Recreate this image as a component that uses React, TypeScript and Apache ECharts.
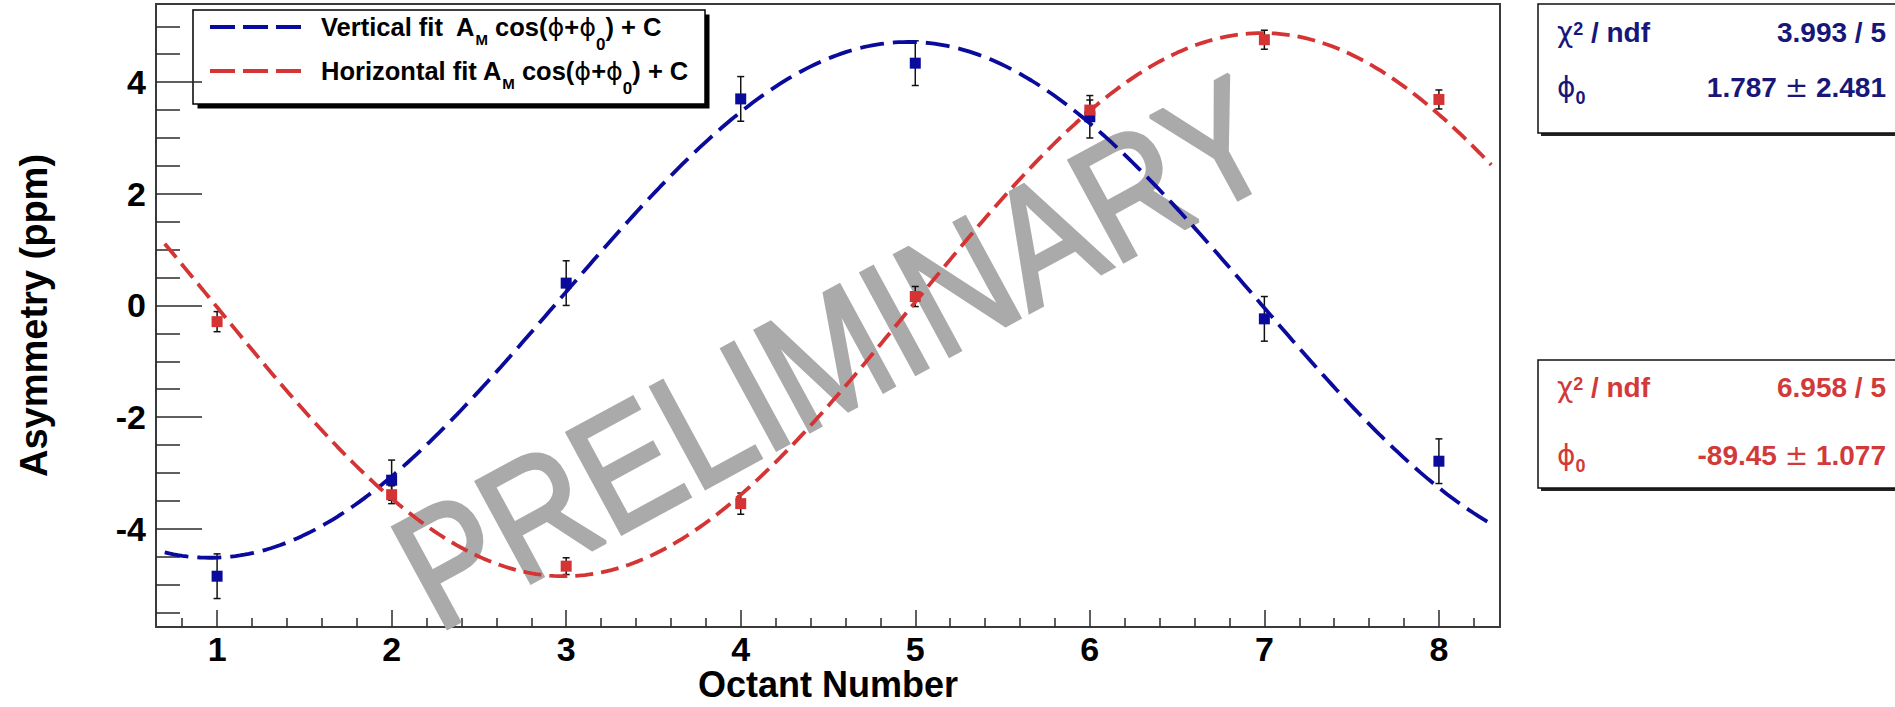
import React, { useEffect, useRef } from "react";
import * as echarts from "echarts";

// ---- measured asymmetries per octant ----
const octants = [1, 2, 3, 4, 5, 6, 7, 8];
const verticalAsym = [-4.85, -3.13, 0.4, 3.7, 4.34, 3.38, -0.24, -2.79];
const verticalErr = [0.4, 0.36, 0.4, 0.4, 0.4, 0.38, 0.4, 0.4];
const horizontalAsym = [-0.29, -3.39, -4.67, -3.55, 0.16, 3.5, 4.76, 3.69];
const horizontalErr = [0.18, 0.16, 0.15, 0.19, 0.18, 0.18, 0.17, 0.17];

// ---- fit results: A_M cos(phi + phi0) + C, phi = 45 deg per octant ----
const verticalFit = { amp: -4.62, phi0: 1.787, c: 0.1 };
const horizontalFit = { amp: -4.865, phi0: -89.45, c: 0.015 };
const fitRange = [0.7, 8.3];

// ---- stat box texts ----
const verticalStats = { chi2: "3.993 / 5", phi0: "1.787", phi0Err: "2.481" };
const horizontalStats = { chi2: "6.958 / 5", phi0: "-89.45", phi0Err: "1.077" };

// ---- axes ----
const xRange = [0.65, 8.35];
const yRange = [-5.76, 5.4];
const xTicks = [1, 2, 3, 4, 5, 6, 7, 8];
const xMinorTicks = [
  0.8, 1.2, 1.4, 1.6, 1.8, 2.2, 2.4, 2.6, 2.8, 3.2, 3.4, 3.6, 3.8, 4.2, 4.4,
  4.6, 4.8, 5.2, 5.4, 5.6, 5.8, 6.2, 6.4, 6.6, 6.8, 7.2, 7.4, 7.6, 7.8, 8.2,
];
const yTicks = [-4, -2, 0, 2, 4];
const yMinorTicks = [
  -5.5, -5, -4.5, -3.5, -3, -2.5, -1.5, -1, -0.5, 0.5, 1, 1.5, 2.5, 3, 3.5,
  4.5, 5,
];

const BLUE = "#0a0a9c";
const RED = "#d43434";
const BLUE_TEXT = "#17177a";
const RED_TEXT = "#d23a3a";
const FONT = "'Liberation Sans', Arial, Helvetica, sans-serif";
const SYMBOL_FONT = "'DejaVu Sans', 'Liberation Sans', sans-serif";

type Fit = { amp: number; phi0: number; c: number };

// evaluate the fitted cosine across the fit range
function fitCurve(p: Fit, n = 300): number[][] {
  const pts: number[][] = [];
  for (let i = 0; i <= n; i++) {
    const x = fitRange[0] + ((fitRange[1] - fitRange[0]) * i) / n;
    const phi = (x - 1) * 45;
    pts.push([x, p.amp * Math.cos(((phi + p.phi0) * Math.PI) / 180) + p.c]);
  }
  return pts;
}

function errorBarSeries(values: number[], errs: number[]) {
  return {
    type: "custom",
    xAxisIndex: 0,
    yAxisIndex: 0,
    z: 3,
    data: octants.map((o, i) => [o, values[i], errs[i]]),
    encode: { x: 0, y: 1 },
    renderItem: (_params: any, api: any) => {
      const x = api.value(0);
      const y = api.value(1);
      const e = api.value(2);
      const top = api.coord([x, y + e]);
      const bot = api.coord([x, y - e]);
      const cap = 3.5;
      const style = { stroke: "#111", lineWidth: 1.5 };
      return {
        type: "group",
        children: [
          { type: "line", shape: { x1: top[0], y1: top[1], x2: bot[0], y2: bot[1] }, style },
          { type: "line", shape: { x1: top[0] - cap, y1: top[1], x2: top[0] + cap, y2: top[1] }, style },
          { type: "line", shape: { x1: bot[0] - cap, y1: bot[1], x2: bot[0] + cap, y2: bot[1] }, style },
        ],
      };
    },
  };
}

function pointSeries(values: number[], color: string) {
  return {
    type: "scatter",
    xAxisIndex: 0,
    yAxisIndex: 0,
    z: 4,
    symbol: "rect",
    symbolSize: 11,
    itemStyle: { color, opacity: 1 },
    emphasis: { disabled: true },
    data: octants.map((o, i) => [o, values[i]]),
  };
}

function fitSeries(p: Fit, color: string, dash: number[]) {
  return {
    type: "line",
    xAxisIndex: 0,
    yAxisIndex: 0,
    z: 5,
    showSymbol: false,
    symbol: "none",
    smooth: false,
    data: fitCurve(p),
    lineStyle: { color, width: 3.8, type: dash },
  };
}

// rich text styles: t = bold text, p = greek symbol, s/z = subscripts, u = superscript
function richStyles(color: string, size: number, lh: number, subSize: number, subPad: number, supSize: number, supPad: number, sub2Size?: number, sub2Pad?: number) {
  return {
    t: { fontFamily: FONT, fontWeight: "bold", fontSize: size, fill: color, lineHeight: lh, verticalAlign: "middle" },
    p: { fontFamily: SYMBOL_FONT, fontWeight: "normal", fontSize: size, fill: color, lineHeight: lh, verticalAlign: "middle" },
    s: { fontFamily: FONT, fontWeight: "bold", fontSize: subSize, fill: color, lineHeight: 1, verticalAlign: "top", padding: [subPad, 0, 0, 0] },
    z: { fontFamily: FONT, fontWeight: "bold", fontSize: sub2Size ?? subSize, fill: color, lineHeight: 1, verticalAlign: "top", padding: [sub2Pad ?? subPad, 0, 0, 0] },
    u: { fontFamily: FONT, fontWeight: "bold", fontSize: supSize, fill: color, lineHeight: 1, verticalAlign: "top", padding: [supPad, 0, 0, 0] },
  };
}

function legendBox() {
  const x = 193, y = 10, w = 512, h = 94;
  const rows = [
    { color: BLUE, cy: 27, text: "{t|Vertical fit  A}{s|M}{t| cos(}{p|ϕ}{t|+}{p|ϕ}{z|0}{t|) + C}" },
    { color: RED, cy: 71, text: "{t|Horizontal fit A}{s|M}{t| cos(}{p|ϕ}{t|+}{p|ϕ}{z|0}{t|) + C}" },
  ];
  const rich = richStyles("#000", 25.5, 34, 15, 22, 15, 0, 17, 26);
  const children: any[] = [
    { type: "rect", shape: { x: x + 4.5, y: y + 4.5, width: w, height: h }, style: { fill: "#000" } },
    { type: "rect", shape: { x, y, width: w, height: h }, style: { fill: "#fff", stroke: "#000", lineWidth: 1.5 } },
  ];
  rows.forEach((r) => {
    children.push({
      type: "line",
      shape: { x1: 210, y1: r.cy, x2: 302, y2: r.cy },
      style: { stroke: r.color, lineWidth: 3.8, lineDash: [25, 8] },
    });
    children.push({
      type: "text",
      x: 321,
      y: r.cy,
      style: { text: r.text, verticalAlign: "middle", align: "left", rich },
    });
  });
  return { type: "group", z: 20, children };
}

function statBox(top: number, h: number, row1: number, row2: number, color: string, s: typeof verticalStats) {
  const x = 1538, w = 400;
  const rich = richStyles(color, 28, 40, 18, 21.5, 18, 7.5);
  return {
    type: "group",
    z: 20,
    children: [
      { type: "rect", shape: { x: x + 3, y: top + 3, width: w, height: h }, style: { fill: "#222" } },
      { type: "rect", shape: { x, y: top, width: w, height: h }, style: { fill: "#fff", stroke: "#111", lineWidth: 1.5 } },
      { type: "text", x: 1557, y: row1, style: { text: "{p|χ}{u|2}{t| / ndf}", align: "left", verticalAlign: "middle", fill: color, rich } },
      { type: "text", x: 1886, y: row1, style: { text: `{t|${s.chi2}}`, align: "right", verticalAlign: "middle", fill: color, rich } },
      { type: "text", x: 1557, y: row2, style: { text: "{p|ϕ}{s|0}", align: "left", verticalAlign: "middle", fill: color, rich } },
      { type: "text", x: 1886, y: row2, style: { text: `{t|${s.phi0} }{p|±}{t| ${s.phi0Err}}`, align: "right", verticalAlign: "middle", fill: color, rich } },
    ],
  };
}

export default function App() {
  const ref = useRef<HTMLDivElement>(null);

  useEffect(() => {
    if (!ref.current) return;
    const chart = echarts.init(ref.current, null, { renderer: "svg" });

    const axisLabel = { fontFamily: FONT, fontWeight: "bold", fontSize: 34, color: "#000" };
    const tickColor = "#2a2a2a";
    const frame = { show: true, onZero: false, lineStyle: { color: "#3a3a3a", width: 2 } };

    const option: any = {
      animation: false,
      backgroundColor: "#fff",
      grid: {
        left: 156,
        top: 4,
        width: 1344,
        height: 623,
        outerBoundsMode: "none",
        containLabel: false,
        show: true,
        borderColor: "#3a3a3a",
        borderWidth: 2,
        backgroundColor: "transparent",
      },
      xAxis: [
        {
          type: "value",
          min: xRange[0],
          max: xRange[1],
          position: "bottom",
          name: "Octant Number",
          nameLocation: "middle",
          nameGap: 42,
          nameMoveOverlap: false,
          nameTextStyle: { fontFamily: FONT, fontWeight: "bold", fontSize: 36, lineHeight: 30, color: "#000" },
          axisLine: frame,
          axisTick: { show: true, inside: true, length: 17, customValues: xTicks, lineStyle: { color: tickColor, width: 1.5 } },
          axisLabel: { ...axisLabel, margin: 5, customValues: xTicks },
          splitLine: { show: false },
        },
        {
          type: "value",
          min: xRange[0],
          max: xRange[1],
          position: "bottom",
          axisLine: { show: false, onZero: false },
          axisTick: { show: true, inside: true, length: 9, customValues: xMinorTicks, lineStyle: { color: tickColor, width: 1.5 } },
          axisLabel: { show: false },
          splitLine: { show: false },
        },
      ],
      yAxis: [
        {
          type: "value",
          min: yRange[0],
          max: yRange[1],
          position: "left",
          name: "Asymmetry (ppm)",
          nameLocation: "middle",
          nameGap: 103,
          nameRotate: 90,
          nameMoveOverlap: false,
          nameTextStyle: { fontFamily: FONT, fontWeight: "bold", fontSize: 38, color: "#000" },
          axisLine: frame,
          axisTick: { show: true, inside: true, length: 46, customValues: yTicks, lineStyle: { color: tickColor, width: 1.5 } },
          axisLabel: { ...axisLabel, margin: 10, customValues: yTicks },
          splitLine: { show: false },
        },
        {
          type: "value",
          min: yRange[0],
          max: yRange[1],
          position: "left",
          axisLine: { show: false, onZero: false },
          axisTick: { show: true, inside: true, length: 24, customValues: yMinorTicks, lineStyle: { color: tickColor, width: 1.5 } },
          axisLabel: { show: false },
          splitLine: { show: false },
        },
      ],
      series: [
        errorBarSeries(verticalAsym, verticalErr),
        pointSeries(verticalAsym, BLUE),
        fitSeries(verticalFit, BLUE, [24, 9]),
        errorBarSeries(horizontalAsym, horizontalErr),
        pointSeries(horizontalAsym, RED),
        fitSeries(horizontalFit, RED, [18, 8]),
      ],
      graphic: [
        {
          type: "text",
          z: 1,
          x: 834,
          y: 353,
          rotation: (28.5 * Math.PI) / 180,
          scaleX: 0.86,
          silent: true,
          style: {
            text: "PRELIMINARY",
            fontFamily: FONT,
            fontWeight: "normal",
            fontSize: 166,
            fill: "#aaaaaa",
            stroke: "#aaaaaa",
            lineWidth: 4,
            align: "center",
            verticalAlign: "middle",
          },
        },
        legendBox(),
        statBox(4, 129, 32, 87, BLUE_TEXT, verticalStats),
        statBox(360, 128, 387, 455, RED_TEXT, horizontalStats),
      ],
    };

    chart.setOption(option);
    return () => chart.dispose();
  }, []);

  return (
    <div
      ref={ref}
      style={{ position: "absolute", left: 0, top: 0, width: 1895, height: 707 }}
    />
  );
}
